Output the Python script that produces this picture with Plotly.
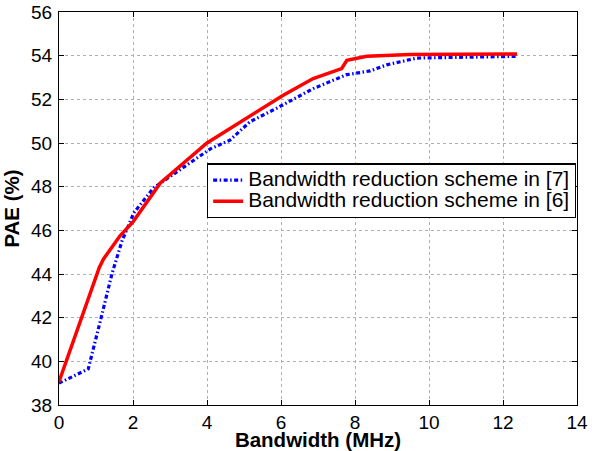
import plotly.graph_objects as go

blue_x = [0, 0.79, 1.11, 1.43, 1.70, 2.02, 2.56, 3.46, 4.09, 4.62, 5.16, 5.89, 6.87, 7.78, 8.41, 8.86, 9.67, 12.38]
blue_y = [39.0, 39.65, 41.8, 44.0, 45.5, 46.8, 47.95, 49.0, 49.73, 50.13, 50.97, 51.6, 52.49, 53.13, 53.30, 53.58, 53.89, 53.97]

red_x = [0, 1.09, 1.2, 1.65, 2.0, 2.74, 4.0, 4.62, 5.0, 6.06, 6.87, 7.64, 7.78, 8.32, 9.49, 12.38]
red_y = [39.07, 44.3, 44.68, 45.75, 46.39, 48.17, 50.0, 50.67, 51.05, 52.19, 52.95, 53.41, 53.79, 53.97, 54.05, 54.08]

blue_name = "Bandwidth reduction scheme in [7]"
red_name = "Bandwidth reduction scheme in [6]"

x_ticks = [0, 2, 4, 6, 8, 10, 12, 14]
y_ticks = [38, 40, 42, 44, 46, 48, 50, 52, 54, 56]

FONT = "Liberation Sans, Arial, Helvetica, sans-serif"


def big(txt):
    return '<span style="font-size:21px">' + txt + '</span>'


fig = go.Figure()
fig.add_trace(go.Scatter(x=blue_x, y=blue_y, mode="lines", name=big(blue_name),
                         hovertemplate=blue_name + "<br>%{x}, %{y}<extra></extra>",
                         line=dict(color="#0000FF", width=3.2, dash="4px,2.5px,1.5px,2.5px")))
fig.add_trace(go.Scatter(x=red_x, y=red_y, mode="lines", name=big(red_name),
                         hovertemplate=red_name + "<br>%{x}, %{y}<extra></extra>",
                         line=dict(color="#FF0000", width=3.5)))

axis_common = dict(
    showline=True, linecolor="black", linewidth=1.2, mirror="ticks",
    ticks="inside", ticklen=5, tickcolor="black", tickwidth=1,
    showgrid=True, gridcolor="#b0b0b0", griddash="dot", gridwidth=1,
    zeroline=False, automargin=False,
    tickfont=dict(family=FONT, size=19, color="black"),
)

fig.update_layout(
    width=592, height=451,
    margin=dict(l=59, r=15, t=12, b=46),
    paper_bgcolor="white", plot_bgcolor="white",
    font=dict(family=FONT, size=19, color="black"),
    xaxis=dict(range=[0, 14], tickvals=x_ticks,
               title=dict(text="<b>Bandwidth (MHz)</b>", font=dict(family=FONT, size=20.5), standoff=0),
               **axis_common),
    yaxis=dict(range=[38, 56], tickvals=y_ticks, ticklabelstandoff=2,
               title=dict(text="<b>PAE (%)</b>", font=dict(family=FONT, size=20.5)),
               **axis_common),
    legend=dict(x=0.998, y=0.615, xanchor="right", yanchor="top",
                bgcolor="white", bordercolor="black", borderwidth=1.2,
                font=dict(family=FONT, size=14, color="black"),
                tracegroupgap=0, itemwidth=30),
    showlegend=True,
)

fig.write_html("out.html", config={"displayModeBar": False},
               post_script="document.body.style.margin='0';document.body.style.padding='0';")
